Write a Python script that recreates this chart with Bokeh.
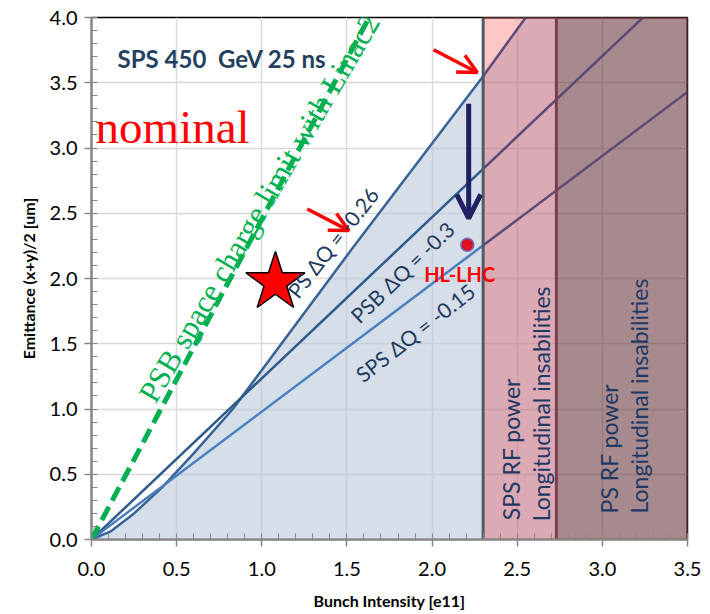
import numpy as np
from bokeh.plotting import figure
from bokeh.models import (Range1d, SingleIntervalTicker, Label, Arrow, OpenHead,
                          PrintfTickFormatter)
from bokeh.embed import file_html
from bokeh.resources import INLINE

# ---------------- data ----------------
ps_x = [0.0, 0.11, 0.25, 0.415, 0.6, 0.83, 1.52, 2.3, 2.55]      # PS dQ=-0.26
ps_y = [0.0, 0.06, 0.20, 0.40, 0.66, 1.00, 2.21, 3.55, 4.00]
psb_slope = 1.235            # PSB dQ=-0.3   (emittance per 1e11)
sps_slope = 0.98             # SPS dQ=-0.15
sc_x = [0.0, 1.63]           # PSB space charge limit with Linac2
sc_y = [0.0, 4.0]
sps_rf_limit = 2.3           # SPS RF power / longitudinal instabilities
ps_rf_limit = 2.73           # PS RF power / longitudinal instabilities
x_max = 3.5
y_max = 4.0
hl_x = [2.207]
hl_y = [2.258]
nominal_x = [1.08]
nominal_y = [1.97]
# annotation arrows: (x_start, y_start, x_end, y_end)
red_arrows = [(1.267, 2.533, 1.512, 2.367), (2.009, 3.753, 2.266, 3.579)]
navy_arrow = (2.215, 3.34, 2.215, 2.46)

# ---------------- figure ----------------
p = figure(width=710, height=614, x_range=Range1d(0, x_max), y_range=Range1d(0, y_max),
           output_backend="svg", toolbar_location=None,
           min_border_left=91, min_border_right=23, min_border_top=17, min_border_bottom=75)
p.background_fill_color = "white"
p.border_fill_color = "white"
p.outline_line_color = "black"
p.outline_line_width = 1.5

for ax in (p.xaxis[0], p.yaxis[0]):
    ax.ticker = SingleIntervalTicker(interval=0.5, num_minor_ticks=5)
    ax.formatter = PrintfTickFormatter(format="%.1f")
    ax.axis_line_color = "#868686"
    ax.axis_line_width = 2
    ax.major_tick_in = 0
    ax.major_tick_out = 7
    ax.minor_tick_in = 6
    ax.minor_tick_out = 0
    ax.major_tick_line_color = "#868686"
    ax.major_tick_line_width = 1.5
    ax.minor_tick_line_color = "#868686"
    ax.major_label_text_font = "Lato"
    ax.major_label_text_font_size = "20px"
    ax.major_label_text_color = "black"
    ax.axis_label_text_font = "Lato"
    ax.axis_label_text_font_style = "bold"
    ax.axis_label_text_font_size = "16px"
    ax.axis_label_text_color = "black"

p.xaxis.axis_label = "Bunch Intensity [e11]"
p.yaxis.axis_label = "Emittance (x+y)/2 [um]"
p.xaxis.major_label_standoff = 15
p.yaxis.major_label_standoff = 7
p.xaxis.axis_label_standoff = 12
p.yaxis.axis_label_standoff = 9

for g in (p.xgrid[0], p.ygrid[0]):
    g.ticker = SingleIntervalTicker(interval=0.5)
    g.grid_line_color = "#d9d9d9"
    g.grid_line_width = 1.5

# ---------------- fills ----------------
xa = np.linspace(0, sps_rf_limit, 300)
ya = np.interp(xa, ps_x, ps_y)
p.varea(x=xa, y1=np.zeros_like(xa), y2=ya, fill_color="#bbcada", fill_alpha=0.6)

xr1 = np.linspace(sps_rf_limit, ps_rf_limit, 100)
yr1 = np.minimum(np.interp(xr1, ps_x, ps_y), y_max)
p.varea(x=xr1, y1=yr1, y2=np.full_like(xr1, y_max), fill_color="#ffa0a3", fill_alpha=0.6)
p.varea(x=xr1, y1=np.zeros_like(xr1), y2=yr1, fill_color="#c57182", fill_alpha=0.6)
p.quad(left=[ps_rf_limit], right=[x_max], bottom=[0], top=[y_max],
       fill_color="#6c3c43", fill_alpha=0.6, line_color=None)

# ---------------- curves ----------------
blue_ps, blue_psb, blue_sps, purple = "#386396", "#2f5a8c", "#4a7fbf", "#5a4a78"
ps_split = float(np.interp(sps_rf_limit, ps_x, ps_y))
ps_in_x = [x for x in ps_x if x < sps_rf_limit] + [sps_rf_limit]
ps_in_y = [y for x, y in zip(ps_x, ps_y) if x < sps_rf_limit] + [ps_split]
ps_out_x = [sps_rf_limit] + [x for x in ps_x if x > sps_rf_limit]
ps_out_y = [ps_split] + [y for x, y in zip(ps_x, ps_y) if x > sps_rf_limit]
p.line(ps_in_x, ps_in_y, line_color=blue_ps, line_width=2.5)
p.line(ps_out_x, ps_out_y, line_color=purple, line_width=2.5)

seg_in = [0.0, sps_rf_limit]
seg_out = [sps_rf_limit, x_max]
p.line(seg_in, [psb_slope * v for v in seg_in], line_color=blue_psb, line_width=2.5)
p.line(seg_out, [psb_slope * v for v in seg_out], line_color=purple, line_width=2.5)
p.line(seg_in, [sps_slope * v for v in seg_in], line_color=blue_sps, line_width=2.5)
p.line(seg_out, [sps_slope * v for v in seg_out], line_color=purple, line_width=2.5)

# borders of the limit regions
p.line([sps_rf_limit, sps_rf_limit], [0, y_max], line_color="#4f5b66", line_width=3)
p.line([ps_rf_limit, ps_rf_limit], [0, y_max], line_color="#7b3e4b", line_width=3)
p.line([x_max, x_max], [0, y_max], line_color="#6b3a42", line_width=2.5)
p.line([sps_rf_limit, x_max], [y_max, y_max], line_color="#6b3a42", line_width=2.5)

# space charge limit
p.line(sc_x, sc_y, line_color="#00b050", line_width=5, line_dash="15 7")

# markers
p.scatter(nominal_x, nominal_y, marker="star", size=62, fill_color="#ff0000",
          line_color="black", line_width=1.5)
p.scatter(hl_x, hl_y, marker="circle", size=13, fill_color="#e01020",
          line_color="#7070c0", line_width=1.5)

# arrows
for (xs, ys, xe, ye) in red_arrows:
    p.add_layout(Arrow(end=OpenHead(size=19, line_color="#ff0000", line_width=3.5),
                       x_start=xs, y_start=ys, x_end=xe, y_end=ye,
                       line_color="#ff0000", line_width=3.5))
p.add_layout(Arrow(end=OpenHead(size=24, line_color="#1f2262", line_width=5),
                   x_start=navy_arrow[0], y_start=navy_arrow[1],
                   x_end=navy_arrow[2], y_end=navy_arrow[3],
                   line_color="#1f2262", line_width=5))

# ---------------- texts ----------------
def lab(x, y, text, **kw):
    p.add_layout(Label(x=x, y=y, text=text, **kw))

lab(0.153, 3.684, "SPS 450\u00a0 GeV 25 ns", text_font="Lato", text_font_style="bold",
    text_font_size="24px", text_color="#243f60", text_baseline="alphabetic")
lab(0.024, 3.164, "nominal", text_font="Liberation Serif", text_font_size="47px",
    text_color="#ff0000", text_baseline="alphabetic")
lab(0.985, 2.54, "PSB space charge limit with Linac2", text_font="Liberation Serif",
    text_font_size="31px", text_color="#00b050", angle=59.5, angle_units="deg",
    text_align="center", text_baseline="middle")

lc = "#1f3a5f"
lab(1.416, 2.276, "PS \u0394Q = -0.26", angle=52, angle_units="deg", text_font="Lato",
    text_font_size="21px", text_color=lc, text_align="center", text_baseline="middle")
lab(1.824, 2.05, "PSB \u0394Q = -0.3", angle=44, angle_units="deg", text_font="Lato",
    text_font_size="21px", text_color=lc, text_align="center", text_baseline="middle")
lab(1.90, 1.587, "SPS \u0394Q = -0.15", angle=38, angle_units="deg", text_font="Lato",
    text_font_size="21px", text_color=lc, text_align="center", text_baseline="middle")

lab(2.162, 2.038, "HL-LHC", text_font="Lato", text_font_style="bold", text_font_size="20px",
    text_color="#ff0000", text_align="center", text_baseline="alphabetic")

vc = "#1f3864"
for (x, y, t) in [(2.462, 0.148, "SPS RF power"), (2.638, 0.14, "Longitudinal insabilities"),
                  (3.038, 0.20, "PS RF power"), (3.214, 0.20, "Longitudinal insabilities")]:
    lab(x, y, t, angle=90, angle_units="deg", text_font="Lato", text_font_size="23px",
        text_color=vc, text_align="left", text_baseline="middle")

open("out.html", "w").write(file_html(p, INLINE))
